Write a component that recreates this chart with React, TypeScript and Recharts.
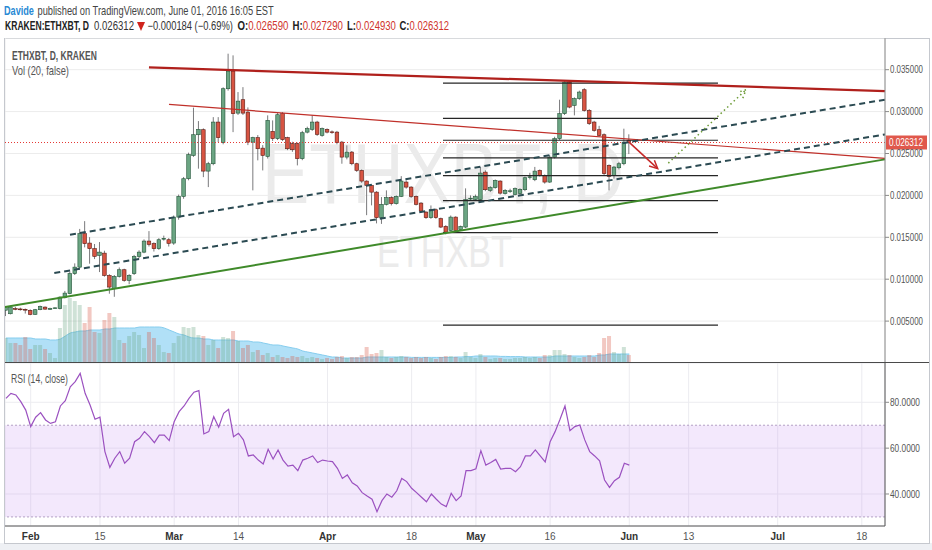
import React from "react";
import {
  ComposedChart,
  Bar,
  Area,
  Line,
  XAxis,
  YAxis,
  CartesianGrid,
  ReferenceLine,
  ReferenceArea,
} from "recharts";

const FONT = "'Liberation Sans', Arial, sans-serif";

// day 0 = 1 Feb 2016, first candle is 27 Jan 2016
const firstDay = -5;

// prices in millionths of a BTC
const opens = [
  6300, 5880, 6500, 6450, 6400, 6280, 5800, 6360, 6670, 6450,
  6500, 6500, 7790, 8270, 10660, 11440, 15430, 14310, 13640, 12840,
  13110, 10450, 8870, 10330, 11130, 9860, 10660, 12720, 13230, 14550,
  14240, 13640, 14800, 14710, 14310, 17410, 19880, 21990, 24770, 27240,
  27840, 22900, 23780, 28750, 26290, 32730, 34830, 29820, 31420, 29940,
  26360, 26890, 25640, 24650, 27640, 26770, 29750, 26890, 26170, 26170,
  24380, 27550, 27880, 28750, 27160, 27880, 27580, 27550, 26360, 24570,
  25170, 23780, 22980, 21710, 21190, 20390, 17340, 18930, 19730, 19010,
  19880, 21590, 20990, 19880, 19080, 18010, 17340, 18290, 17220, 16300,
  15820, 17410, 15910, 16220, 19600, 19520, 19490, 22780, 20600, 20920,
  21710, 20220, 20480, 20120, 20240, 20680, 22150, 21870, 22980, 22390,
  21590, 24570, 26770, 29750, 33520, 30740, 31540, 32610, 30140, 28750,
  27840, 27240, 23580, 22390, 23300, 23780, 26590,
];
const highs = [
  6800, 6800, 6700, 6600, 6500, 6400, 6450, 6850, 6750, 6600,
  6650, 7950, 8600, 10900, 11890, 16000, 16930, 15020, 14200, 14430,
  13400, 10600, 10500, 11400, 11250, 10600, 12900, 13450, 14750, 15740,
  14400, 14900, 15200, 14900, 17600, 20100, 22200, 25100, 30470, 28870,
  28000, 24000, 29340, 29340, 32900, 36910, 36710, 32330, 32920, 30500,
  27000, 27200, 26000, 29550, 28950, 29900, 29950, 27000, 26400, 26300,
  27700, 28200, 29550, 28900, 28100, 28000, 27750, 27700, 26500, 25970,
  25300, 23900, 23100, 21800, 21300, 20500, 19800, 20600, 19900, 20000,
  22300, 21800, 21100, 20000, 19200, 18100, 18800, 18450, 17350, 16450,
  17600, 17500, 16400, 20840, 20000, 20100, 23380, 23000, 21100, 21900,
  21800, 20750, 20800, 20950, 20850, 22250, 22700, 23400, 23100, 22500,
  24800, 27000, 31420, 33640, 33640, 31700, 32500, 32800, 30300, 28900,
  28300, 27400, 23700, 23500, 24000, 27960, 27290,
];
const lows = [
  5600, 5800, 6300, 6250, 5900, 5700, 5750, 6300, 6350, 6350,
  6450, 6400, 7700, 8200, 10500, 11300, 13800, 11850, 12400, 10850,
  10300, 8270, 7900, 10200, 9700, 9400, 10500, 12500, 13100, 13900,
  13300, 13500, 14600, 13900, 14100, 17100, 19600, 21800, 24600, 23190,
  22180, 20990, 23600, 26360, 26100, 32500, 27550, 29600, 29600, 26000,
  20600, 24180, 22980, 24400, 26500, 26600, 26500, 25400, 25200, 23580,
  24200, 27400, 27700, 27100, 27000, 27400, 27350, 26100, 23780, 24300,
  23600, 22800, 21500, 17640, 18810, 16660, 16600, 18800, 18800, 18900,
  19800, 20800, 19700, 18800, 17900, 17200, 17200, 17200, 16100, 15350,
  15700, 15700, 15750, 16100, 19400, 19400, 19350, 20500, 20400, 20800,
  20100, 20100, 20300, 20000, 20100, 20500, 21900, 21700, 22250, 21400,
  21500, 24400, 26600, 29600, 30400, 29550, 31400, 30000, 28400, 27600,
  27000, 22400, 20600, 22000, 23100, 23600, 24930,
];
const closes = [
  6600, 6670, 6460, 6400, 6360, 5800, 6360, 6750, 6430, 6500,
  6580, 7860, 8340, 10660, 11440, 15430, 14240, 13640, 12720, 13230,
  10450, 9060, 10330, 11130, 9860, 10450, 12720, 13230, 14550, 14150,
  13640, 14710, 14870, 14270, 17410, 19880, 21990, 24860, 27240, 27880,
  22900, 23780, 28750, 26890, 32730, 34830, 29750, 31250, 29820, 26360,
  26890, 25570, 24770, 28950, 26770, 29630, 26650, 25570, 25450, 24380,
  27480, 27960, 28750, 27280, 27960, 27550, 27520, 26290, 24570, 25170,
  23780, 22980, 21710, 21190, 20390, 17340, 18930, 19730, 19010, 19880,
  21710, 20990, 19880, 18930, 18130, 17340, 18290, 17340, 16220, 15620,
  17410, 15820, 16300, 19490, 19660, 19850, 22660, 20680, 20920, 21790,
  20270, 20600, 20550, 20800, 20720, 22110, 22220, 22900, 22390, 21590,
  24570, 26770, 29750, 33520, 30540, 31540, 32330, 30140, 28560, 27760,
  27160, 22590, 22270, 23380, 23780, 26360, 26312,
];

// volume in thousand ETH and its 20-day average
const volumes = [
  125, 100, 100, 90, 130, 70, 90, 90, 70, 50,
  25, 175, 290, 325, 310, 290, 200, 280, 155, 150,
  215, 250, 230, 115, 100, 135, 155, 140, 75, 155,
  125, 90, 55, 50, 100, 135, 180, 175, 180, 140,
  135, 90, 115, 75, 130, 125, 160, 110, 75, 90,
  55, 65, 40, 50, 30, 40, 30, 25, 35, 30,
  35, 25, 30, 25, 20, 25, 20, 30, 35, 25,
  30, 30, 40, 80, 45, 50, 65, 30, 25, 30,
  35, 30, 25, 30, 25, 30, 25, 20, 30, 35,
  35, 30, 25, 55, 30, 25, 45, 30, 20, 25,
  25, 20, 20, 25, 25, 30, 25, 30, 25, 40,
  40, 65, 65, 45, 40, 30, 25, 30, 40, 30,
  50, 125, 135, 55, 45, 80, 40,
];
const volumeMa = [
  125, 125, 125, 125, 125, 125, 120, 120, 120, 115,
  115, 120, 135, 150, 155, 160, 160, 165, 165, 165,
  170, 170, 175, 175, 175, 175, 175, 180, 180, 180,
  180, 180, 175, 165, 155, 145, 140, 130, 125, 125,
  120, 120, 115, 115, 115, 115, 115, 110, 110, 110,
  105, 105, 100, 95, 90, 90, 85, 80, 75, 70,
  60, 55, 50, 45, 40, 35, 30, 30, 25, 25,
  25, 25, 25, 30, 30, 30, 30, 30, 30, 30,
  30, 30, 28, 28, 28, 28, 28, 28, 28, 28,
  28, 30, 30, 32, 32, 35, 35, 35, 35, 35,
  33, 33, 32, 32, 32, 30, 30, 30, 30, 30,
  30, 35, 35, 35, 35, 35, 35, 35, 35, 35,
  40, 40, 45, 45, 45, 45, 45,
];

const rsiValues = [
  81.7, 83.9, 83.2, 80.3, 76.6, 69.4, 73.5, 75.5, 72.3, 70.8,
  71.5, 78.4, 80.7, 86.8, 89.0, 92.6, 83.9, 78.8, 72.6, 73.5,
  58.5, 51.6, 55.6, 58.5, 53.4, 55.6, 62.8, 64.3, 67.2, 65.0,
  62.4, 65.7, 65.7, 63.3, 71.5, 75.9, 78.4, 81.7, 84.4, 85.1,
  66.2, 67.2, 73.7, 69.1, 75.2, 76.9, 65.0, 66.5, 63.6, 56.6,
  57.0, 54.8, 53.1, 59.5, 55.3, 59.2, 54.8, 52.2, 52.6, 50.2,
  54.8, 55.6, 56.6, 53.7, 54.8, 54.4, 54.1, 51.2, 46.8, 48.3,
  44.9, 43.5, 40.6, 39.1, 37.7, 32.3, 37.1, 40.0, 38.6, 41.4,
  46.8, 45.4, 42.5, 40.6, 38.6, 36.6, 40.0, 37.7, 35.6, 34.5,
  40.3, 37.1, 39.1, 50.2, 50.2, 51.0, 58.9, 52.6, 53.7, 55.1,
  50.9, 51.2, 51.2, 49.7, 51.9, 56.6, 56.6, 59.2, 56.6, 54.0,
  62.8, 67.2, 72.6, 78.4, 67.6, 69.4, 70.1, 63.6, 58.5, 56.6,
  54.5, 46.1, 42.9, 45.8, 47.3, 53.4, 52.6,
];

const dayTicks = [0, 14, 29, 42, 60, 77, 90, 105, 121, 133, 151, 168];
const dayLabels = ["Feb", "15", "Mar", "14", "Apr", "18", "May", "16", "Jun", "13", "Jul", "18"];
const priceTicks = [0.005, 0.01, 0.015, 0.02, 0.025, 0.03, 0.035];
const rsiTicks = [40, 60, 80];
const lastPrice = 0.026312;

// fibonacci retracement drawn from 0.01555 to 0.0334
const fibLevels = [0.0334, 0.02919, 0.02658, 0.02448, 0.02237, 0.01937, 0.01555, 0.00452];
const fibRange = [83.34, 138.93];

// user drawings: [day, price] end points
const trendLines = [
  { from: [23.91, 0.03527], to: [172.69, 0.03245], color: "#b0201c", width: 2.2, dash: undefined },
  { from: [27.96, 0.03086], to: [172.69, 0.02442], color: "#c0302a", width: 1.2, dash: undefined },
  { from: [-5.2, 0.00667], to: [172.69, 0.0243], color: "#3f8a2a", width: 2, dash: undefined },
  { from: [7.94, 0.01531], to: [172.69, 0.03142], color: "#2b4a52", width: 2, dash: "6 4" },
  { from: [4.77, 0.01073], to: [172.69, 0.02728], color: "#2b4a52", width: 2, dash: "6 4" },
];
const arrows = [
  { from: [120.94, 0.02636], to: [126.74, 0.02319], color: "#c62828", width: 1.5, dash: undefined },
  { from: [128.89, 0.02385], to: [144.59, 0.03261], color: "#6b9a34", width: 1.5, dash: "1.5 3" },
];

const xDomain = [-5.195, 172.69];

const rows = opens.map((o, i) => ({
  day: firstDay + i,
  open: o / 1e6,
  high: highs[i] / 1e6,
  low: lows[i] / 1e6,
  close: closes[i] / 1e6,
  hl: [lows[i] / 1e6, highs[i] / 1e6],
  volume: volumes[i],
  volumeMa: volumeMa[i],
  rsi: rsiValues[i],
}));

// text squeezed horizontally to a given width (the original uses a narrow font)
function FitText({ x, y, width, anchor = "start", children, ...rest }: any) {
  const ref = React.useRef<SVGTextElement>(null);
  const [sx, setSx] = React.useState(1);
  React.useLayoutEffect(() => {
    if (ref.current) {
      const w = ref.current.getComputedTextLength();
      if (w > 0) setSx(Math.max(0.4, Math.min(1.3, width / w)));
    }
  }, [width, children]);
  return (
    <text ref={ref} transform={`translate(${x},${y}) scale(${sx},1)`} textAnchor={anchor} fontFamily={FONT} {...rest}>
      {children}
    </text>
  );
}

function Candle(props: any) {
  const { x, y, width, height, payload } = props;
  if (!payload || height == null) return null;
  const { open, close, high, low } = payload;
  const range = high - low || 1e-9;
  const toY = (v: number) => y + ((high - v) / range) * height;
  const cx = x + width / 2;
  const up = close >= open;
  const top = toY(Math.max(open, close));
  const bot = toY(Math.min(open, close));
  return (
    <g>
      <line x1={cx} x2={cx} y1={y} y2={y + height} stroke="#7a7a7c" strokeWidth={1} />
      <rect
        x={cx - 1.8}
        y={top}
        width={3.6}
        height={Math.max(bot - top, 0.8)}
        fill={up ? "#6ba583" : "#d75442"}
        stroke={up ? "#225437" : "#5b1a13"}
        strokeWidth={0.6}
      />
    </g>
  );
}

function VolumeBar(props: any) {
  const { x, y, width, height, payload } = props;
  if (!payload || !height) return null;
  const up = payload.close >= payload.open;
  return <rect x={x} y={y} width={width} height={height} fill={up ? "#6ba583" : "#d75442"} fillOpacity={0.32} />;
}

function ArrowShape(props: any) {
  const { x1, y1, x2, y2, stroke, strokeWidth, strokeDasharray } = props;
  const a = Math.atan2(y2 - y1, x2 - x1);
  const len = 9;
  const p1 = [x2 - len * Math.cos(a - 0.45), y2 - len * Math.sin(a - 0.45)];
  const p2 = [x2 - len * Math.cos(a + 0.45), y2 - len * Math.sin(a + 0.45)];
  return (
    <g>
      <line x1={x1} y1={y1} x2={x2} y2={y2} stroke={stroke} strokeWidth={strokeWidth} strokeDasharray={strokeDasharray} />
      <polyline
        points={`${p1[0]},${p1[1]} ${x2},${y2} ${p2[0]},${p2[1]}`}
        fill="none"
        stroke={stroke}
        strokeWidth={strokeWidth}
        strokeDasharray={strokeDasharray}
      />
    </g>
  );
}

function PriceTag(props: any) {
  const vb = props.viewBox || {};
  const x = (vb.x ?? 0) + (vb.width ?? 0);
  const y = vb.y ?? 0;
  return (
    <g>
      <rect x={x + 1} y={y - 7} width={41} height={14} fill="#e0584c" />
      <FitText x={x + 4} y={y + 3.8} width={34} fill="#fff" fontSize={10.5}>
        {lastPrice.toFixed(6)}
      </FitText>
    </g>
  );
}

function PriceTick(props: any) {
  const { x, y, payload } = props;
  return (
    <FitText x={x} y={y + 3.6} width={33} fontSize={10.5} fill="#555">
      {Number(payload.value).toFixed(6)}
    </FitText>
  );
}

function RsiTick(props: any) {
  const { x, y, payload } = props;
  return (
    <FitText x={x} y={y + 3.6} width={30} fontSize={10.5} fill="#555">
      {Number(payload.value).toFixed(4)}
    </FitText>
  );
}

function DateTick(props: any) {
  const { x, y, payload } = props;
  const label = dayLabels[dayTicks.indexOf(payload.value)] ?? "";
  const month = isNaN(Number(label));
  return (
    <text
      x={x}
      y={y + 13.5}
      textAnchor="middle"
      fontSize={10}
      fontWeight={month ? 700 : 400}
      fill={month ? "#333" : "#555"}
      fontFamily={FONT}
    >
      {label}
    </text>
  );
}

function PriceChart() {
  return (
    <ComposedChart width={925} height={325} data={rows} margin={{ top: 0, right: 0, bottom: 0, left: 0 }}>
      <CartesianGrid xAxisId="main" yAxisId="price" stroke="#ececec" />
      <XAxis
        xAxisId="main"
        dataKey="day"
        type="number"
        domain={xDomain}
        ticks={dayTicks}
        interval={0}
        height={0}
        tick={false}
        axisLine={false}
        tickLine={false}
      />
      <XAxis xAxisId="v" dataKey="day" type="number" domain={xDomain} hide />
      <YAxis
        yAxisId="price"
        orientation="right"
        width={45}
        type="number"
        domain={[0, 0.038783]}
        ticks={priceTicks}
        interval={0}
        tick={<PriceTick />}
        tickSize={4}
        tickMargin={1}
        axisLine={{ stroke: "#8a8a8a" }}
        tickLine={{ stroke: "#8a8a8a" }}
      />
      <YAxis yAxisId="vol" domain={[0, 1625]} hide />
      <Bar xAxisId="v" yAxisId="vol" dataKey="volume" barSize={4} shape={<VolumeBar />} isAnimationActive={false} />
      <Area
        xAxisId="v"
        yAxisId="vol"
        dataKey="volumeMa"
        type="monotone"
        stroke="#86cdee"
        strokeWidth={1}
        fill="#45b5ec"
        fillOpacity={0.42}
        dot={false}
        activeDot={false}
        isAnimationActive={false}
      />
      <Bar xAxisId="main" yAxisId="price" dataKey="hl" barSize={4} shape={<Candle />} isAnimationActive={false} />
      <ReferenceLine
        xAxisId="main"
        yAxisId="price"
        y={lastPrice}
        stroke="#e53935"
        strokeWidth={1}
        strokeDasharray="1 2"
        ifOverflow="visible"
        label={(p: any) => <PriceTag {...p} />}
      />
      {fibLevels.map((lvl) => (
        <ReferenceLine
          key={"fib" + lvl}
          xAxisId="main"
          yAxisId="price"
          segment={[
            { x: fibRange[0], y: lvl },
            { x: fibRange[1], y: lvl },
          ]}
          stroke="#262626"
          strokeWidth={1.2}
          ifOverflow="visible"
        />
      ))}
      {trendLines.map((t, i) => (
        <ReferenceLine
          key={"tl" + i}
          xAxisId="main"
          yAxisId="price"
          segment={[
            { x: t.from[0], y: t.from[1] },
            { x: t.to[0], y: t.to[1] },
          ]}
          stroke={t.color}
          strokeWidth={t.width}
          strokeDasharray={t.dash}
          ifOverflow="visible"
        />
      ))}
      {arrows.map((t, i) => (
        <ReferenceLine
          key={"ar" + i}
          xAxisId="main"
          yAxisId="price"
          segment={[
            { x: t.from[0], y: t.from[1] },
            { x: t.to[0], y: t.to[1] },
          ]}
          stroke={t.color}
          strokeWidth={t.width}
          strokeDasharray={t.dash}
          ifOverflow="visible"
          shape={(p: any) => <ArrowShape {...p} />}
        />
      ))}
    </ComposedChart>
  );
}

function RsiChart() {
  return (
    <ComposedChart width={925} height={180} data={rows} margin={{ top: 0, right: 0, bottom: 0, left: 0 }}>
      <CartesianGrid stroke="#ececf0" />
      <XAxis
        dataKey="day"
        type="number"
        domain={xDomain}
        ticks={dayTicks}
        interval={0}
        height={17}
        tickSize={0}
        tickMargin={0}
        tick={<DateTick />}
        axisLine={{ stroke: "#555" }}
        tickLine={false}
      />
      <YAxis
        orientation="right"
        width={45}
        type="number"
        domain={[26.04, 97.14]}
        ticks={rsiTicks}
        interval={0}
        tick={<RsiTick />}
        tickSize={4}
        tickMargin={1}
        axisLine={{ stroke: "#555" }}
        tickLine={{ stroke: "#8a8a8a" }}
      />
      <ReferenceArea y1={30} y2={70} fill="#c38cf0" fillOpacity={0.2} stroke="none" ifOverflow="visible" />
      <ReferenceLine y={70} stroke="#b3a0c4" strokeDasharray="2 2" />
      <ReferenceLine y={30} stroke="#b3a0c4" strokeDasharray="2 2" />
      <Line
        dataKey="rsi"
        type="linear"
        stroke="#9b51c0"
        strokeWidth={1.2}
        dot={false}
        activeDot={false}
        isAnimationActive={false}
      />
    </ComposedChart>
  );
}

function Header() {
  const red = "#d0342c";
  const ohlc = (x: number, width: number, key: string, value: string) => (
    <FitText x={x} y={30} width={width} fontSize={12}>
      <tspan fontWeight={700} fill="#222">
        {key}
      </tspan>
      <tspan fill={red}>{value}</tspan>
    </FitText>
  );
  return (
    <svg width={932} height={38} style={{ position: "absolute", left: 0, top: 0 }}>
      <FitText x={4} y={15} width={30} fontSize={12.5} fontWeight={700} fill="#2a8ad4">
        Davide
      </FitText>
      <FitText x={37.5} y={15} width={236.5} fontSize={12.5} fill="#444">
        published on TradingView.com, June 01, 2016 16:05 EST
      </FitText>
      <FitText x={5} y={30} width={84} fontSize={12} fontWeight={700} fill="#222">
        KRAKEN:ETHXBT, D
      </FitText>
      <FitText x={94} y={30} width={40} fontSize={12} fill="#333">
        0.026312
      </FitText>
      <polygon points="137,22 145,22 141,31" fill="#d0241c" />
      <FitText x={147.5} y={30} width={85.5} fontSize={12} fill="#333">
        {"\u22120.000184 (\u22120.69%)"}
      </FitText>
      {ohlc(237.5, 51, "O:", "0.026590")}
      {ohlc(292.5, 50.5, "H:", "0.027290")}
      {ohlc(347, 49, "L:", "0.024930")}
      {ohlc(399.5, 49.5, "C:", "0.026312")}
    </svg>
  );
}

function Watermark() {
  return (
    <svg width={932} height={550} style={{ position: "absolute", left: 0, top: 0 }}>
      <FitText x={262} y={203} width={362} fontSize={86} fill="#ebebeb">
        ETHXBT, D
      </FitText>
      <FitText x={377} y={267} width={135} fontSize={44} fill="#ebebeb">
        ETHXBT
      </FitText>
    </svg>
  );
}

function PaneLabels() {
  return (
    <svg width={932} height={550} style={{ position: "absolute", left: 0, top: 0, pointerEvents: "none" }}>
      <FitText x={12} y={59.5} width={85} fontSize={12.5} fontWeight={700} fill="#555">
        ETHXBT, D, KRAKEN
      </FitText>
      <FitText x={12} y={74.5} width={57} fontSize={12.5} fill="#555">
        Vol (20, false)
      </FitText>
      <FitText x={11} y={383} width={57} fontSize={12.5} fill="#555">
        RSI (14, close)
      </FitText>
    </svg>
  );
}

export default function App() {
  return (
    <div
      style={{
        position: "absolute",
        left: 0,
        top: 0,
        width: 932,
        height: 550,
        background: "#fff",
        overflow: "hidden",
        fontFamily: FONT,
      }}
    >
      <Header />
      <div style={{ position: "absolute", left: 0, top: 543, width: 932, height: 7, background: "#eef0f4" }} />
      <div
        style={{
          position: "absolute",
          left: 4,
          top: 38,
          width: 926,
          height: 506,
          border: "1px solid #c5c8ce",
          boxSizing: "border-box",
        }}
      />
      <Watermark />
      <div style={{ position: "absolute", left: 5, top: 38 }}>
        <PriceChart />
      </div>
      <div style={{ position: "absolute", left: 5, top: 363 }}>
        <RsiChart />
      </div>
      <div style={{ position: "absolute", left: 5, top: 362, width: 924, height: 1, background: "#4a4a4a" }} />
      <PaneLabels />
    </div>
  );
}
